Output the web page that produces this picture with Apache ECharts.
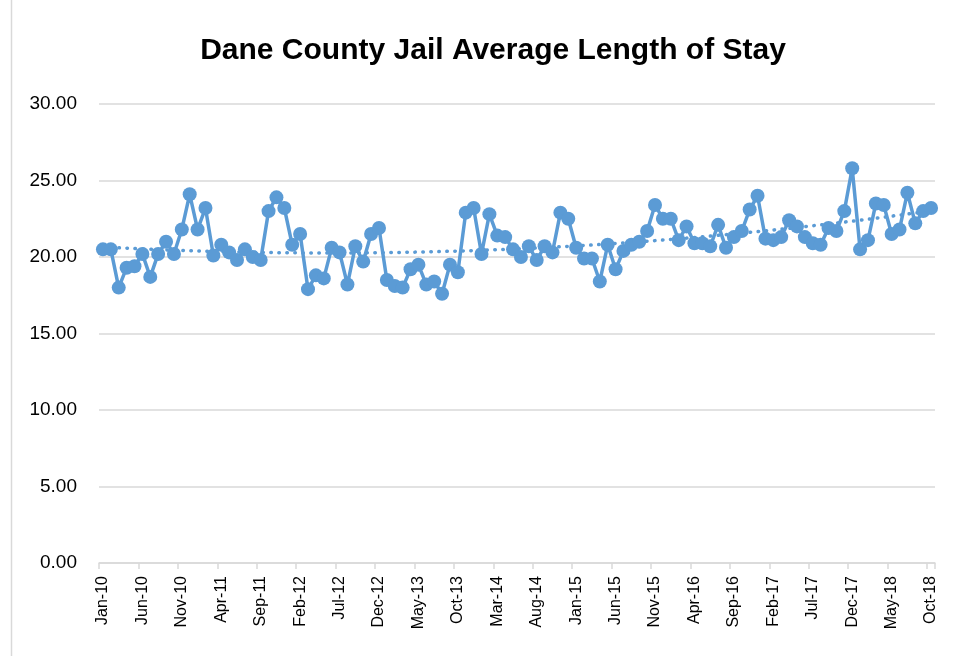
<!DOCTYPE html>
<html>
<head>
<meta charset="utf-8">
<script src="https://cdn.jsdelivr.net/npm/echarts@6/dist/echarts.min.js"></script>
<style>html,body{margin:0;padding:0;background:#fff;}#c{width:963px;height:656px;}</style>
</head>
<body>
<div id="c"></div>
<script>
const titleText = 'Dane County Jail Average Length of Stay';
const months = ['Jan','Feb','Mar','Apr','May','Jun','Jul','Aug','Sep','Oct','Nov','Dec'];
const years = ['10','11','12','13','14','15','16','17','18'];
const categories = [];
for (const y of years) for (const m of months) { categories.push(m + '-' + y); if (m === 'Oct' && y === '18') break; }

const values = [
  20.5, 20.5, 18.0, 19.3, 19.4, 20.2, 18.7, 20.2, 21.0, 20.2,
  21.8, 24.1, 21.8, 23.2, 20.1, 20.8, 20.3, 19.8, 20.5, 20.0,
  19.8, 23.0, 23.9, 23.2, 20.8, 21.5, 17.9, 18.8, 18.6, 20.6,
  20.3, 18.2, 20.7, 19.7, 21.5, 21.9, 18.5, 18.1, 18.0, 19.2,
  19.5, 18.2, 18.4, 17.6, 19.5, 19.0, 22.9, 23.2, 20.2, 22.8,
  21.4, 21.3, 20.5, 20.0, 20.7, 19.8, 20.7, 20.3, 22.9, 22.5,
  20.6, 19.9, 19.9, 18.4, 20.8, 19.2, 20.4, 20.8, 21.0, 21.7,
  23.4, 22.5, 22.5, 21.1, 22.0, 20.9, 20.9, 20.7, 22.1, 20.6,
  21.3, 21.7, 23.1, 24.0, 21.2, 21.1, 21.3, 22.4, 22.0, 21.3,
  20.9, 20.8, 21.9, 21.7, 23.0, 25.8, 20.5, 21.1, 23.5, 23.4,
  21.5, 21.8, 24.2, 22.2, 23.0, 23.2
];
const yTicks = [0, 5, 10, 15, 20, 25, 30];

// polynomial (order 2) trendline fitted to the data, as the reference's dotted trend
function quadFit(ys) {
  let n = ys.length, S = [0,0,0,0,0], T = [0,0,0];
  for (let i = 0; i < n; i++) {
    const x = i + 1;
    let p = 1;
    for (let k = 0; k < 5; k++) { S[k] += p; p *= x; }
    T[0] += ys[i]; T[1] += ys[i] * x; T[2] += ys[i] * x * x;
  }
  const A = [[S[0],S[1],S[2],T[0]],[S[1],S[2],S[3],T[1]],[S[2],S[3],S[4],T[2]]];
  for (let c = 0; c < 3; c++) {
    for (let r = c + 1; r < 3; r++) {
      const f = A[r][c] / A[c][c];
      for (let k = c; k < 4; k++) A[r][k] -= f * A[c][k];
    }
  }
  const b = [0,0,0];
  for (let r = 2; r >= 0; r--) {
    let s = A[r][3];
    for (let k = r + 1; k < 3; k++) s -= A[r][k] * b[k];
    b[r] = s / A[r][r];
  }
  return ys.map((_, i) => { const x = i + 1; return b[0] + b[1] * x + b[2] * x * x; });
}
const trend = quadFit(values);

const chart = echarts.init(document.getElementById('c'), null, {renderer: 'canvas'});
const FONT = "'Liberation Sans', Arial, sans-serif";
chart.setOption({
  backgroundColor: '#ffffff',
  animation: false,
  title: {
    text: titleText,
    left: 488, top: 31, textAlign: 'center',
    textStyle: {fontFamily: FONT, fontWeight: 'bold', fontSize: 30, color: '#000'}
  },
  graphic: [{
    type: 'line', shape: {x1: 11.5, y1: 0, x2: 11.5, y2: 656},
    style: {stroke: '#d9d9d9', lineWidth: 1.5}
  }],
  grid: {left: 99, right: 28, top: 104, bottom: 93, containLabel: false},
  xAxis: {
    type: 'category', data: categories, boundaryGap: true,
    axisLine: {lineStyle: {color: '#d9d9d9', width: 1.5}},
    axisTick: {show: true, interval: 4, length: 6, lineStyle: {color: '#d9d9d9', width: 1.5}},
    axisLabel: {interval: 4, rotate: 90, margin: 13, fontFamily: FONT, fontSize: 16, color: '#000'}
  },
  yAxis: {
    type: 'value', min: yTicks[0], max: yTicks[yTicks.length - 1], interval: 5,
    axisLine: {show: false}, axisTick: {show: false},
    splitLine: {lineStyle: {color: '#d9d9d9', width: 1.5}},
    axisLabel: {margin: 22, fontFamily: FONT, fontSize: 19, color: '#000',
      formatter: v => v.toFixed(2)}
  },
  series: [
    {
      name: 'trend', type: 'line', data: trend, showSymbol: false, symbol: 'none',
      z: 1, silent: true,
      lineStyle: {color: '#5b9bd5', width: 3.5, type: [0.5, 7.5], cap: 'round'}
    },
    {
      name: 'ALOS', type: 'line', data: values, z: 2,
      symbol: 'circle', symbolSize: 14, showAllSymbol: true,
      itemStyle: {color: '#5b9bd5'},
      lineStyle: {color: '#5b9bd5', width: 3.5}
    }
  ]
});
</script>
</body>
</html>
